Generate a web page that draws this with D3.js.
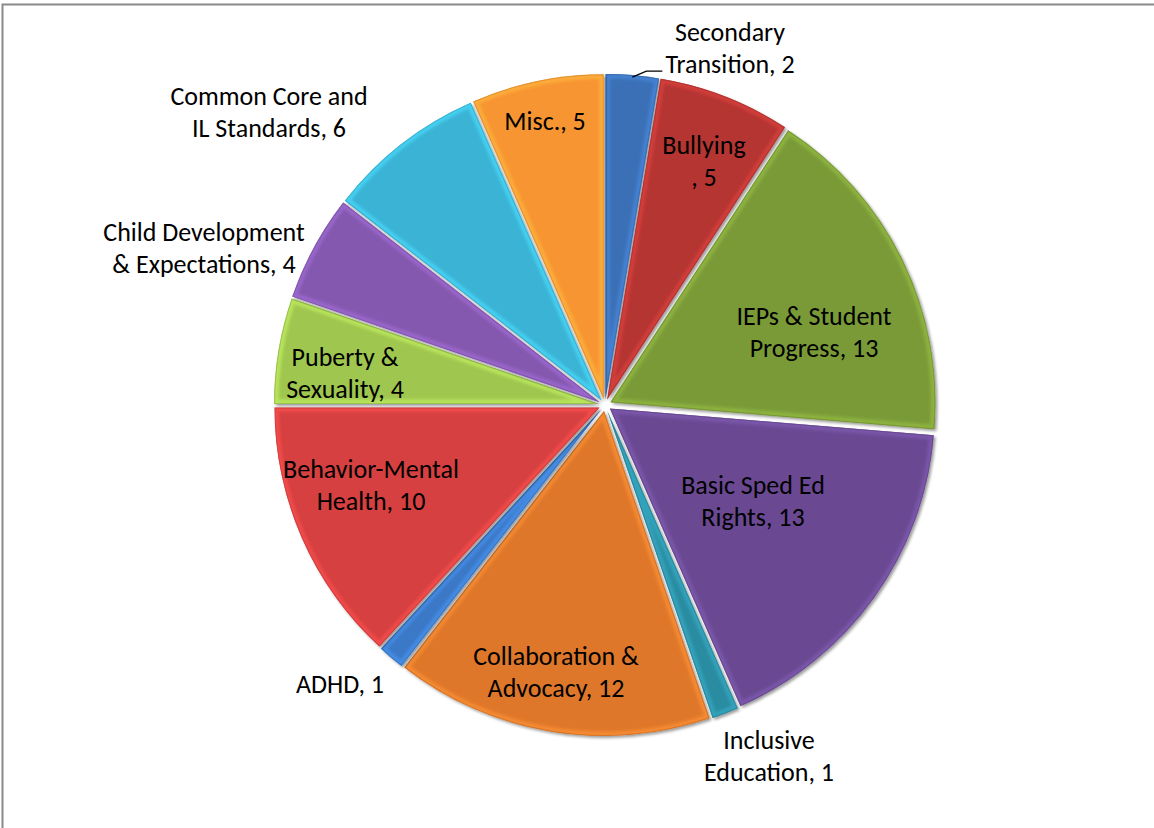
<!DOCTYPE html>
<html>
<head>
<meta charset="utf-8">
<script src="https://cdn.jsdelivr.net/npm/d3@7"></script>
<style>
  html, body { margin: 0; padding: 0; background: #fff; }
  svg { display: block; }
  text { font-family: Carlito, Lato, "Open Sans", sans-serif; font-size: 26px; fill: #000; }
</style>
</head>
<body>
<svg id="chart" width="1154" height="828"></svg>
<script>
// ---- data ----
const categories = [
  "Secondary Transition", "Bullying", "IEPs & Student Progress", "Basic Sped Ed Rights",
  "Inclusive Education", "Collaboration & Advocacy", "ADHD", "Behavior-Mental Health",
  "Puberty & Sexuality", "Child Development & Expectations", "Common Core and IL Standards", "Misc."
];
const values = [2, 5, 13, 13, 1, 12, 1, 10, 4, 4, 6, 5];
const labelLines = [
  ["Secondary", "Transition, 2"],
  ["Bullying", ", 5"],
  ["IEPs & Student", "Progress, 13"],
  ["Basic Sped Ed", "Rights, 13"],
  ["Inclusive", "Education, 1"],
  ["Collaboration &", "Advocacy, 12"],
  ["ADHD, 1"],
  ["Behavior-Mental", "Health, 10"],
  ["Puberty &", "Sexuality, 4"],
  ["Child Development", "& Expectations, 4"],
  ["Common Core and", "IL Standards, 6"],
  ["Misc., 5"]
];
const colors = [
  "#3a70b6", "#b53533", "#7a9a37", "#6a4a92", "#2c8ca1", "#df772a",
  "#3a78c6", "#d63f3f", "#9fc64f", "#8458ae", "#3ab3d5", "#f79532"
];

// ---- layout ----
const W = 1154, H = 828;
const cx = 605, cy = 405, R = 325, explode = 6;
// label centres relative to pie centre (layout only)
const labelPos = [
  [125, -357], [99, -244], [209, -73], [148, 96], [164, 351], [-49, 267],
  [-265, 279], [-234, 80], [-260, -32], [-401, -157], [-336, -293], [-60, -284]
];
const lineGap = 32;

const svg = d3.select("#chart");
const defs = svg.append("defs");

// drop shadow
const sh = defs.append("filter").attr("id", "shadow")
  .attr("x", "-10%").attr("y", "-10%").attr("width", "120%").attr("height", "120%");
sh.append("feGaussianBlur").attr("in", "SourceAlpha").attr("stdDeviation", 1.8).attr("result", "b");
sh.append("feOffset").attr("in", "b").attr("dx", 1.5).attr("dy", 2).attr("result", "o");
sh.append("feComponentTransfer").attr("in", "o").attr("result", "s")
  .append("feFuncA").attr("type", "linear").attr("slope", 0.4);
const mm = sh.append("feMerge");
mm.append("feMergeNode").attr("in", "s");
mm.append("feMergeNode").attr("in", "SourceGraphic");

const soft = defs.append("filter").attr("id", "soft");
soft.append("feGaussianBlur").attr("stdDeviation", 1.6);

// outer frame (right/bottom fall outside the picture)
svg.append("rect").attr("x", 2.5).attr("y", 4.5).attr("width", W + 10).attr("height", H + 10)
  .attr("fill", "none").attr("stroke", "#8a8a8a").attr("stroke-width", 2);

const pie = d3.pie().value(d => d).sort(null).startAngle(0).endAngle(2 * Math.PI);
const arcs = pie(values);
const arc = d3.arc().innerRadius(0).outerRadius(R);

const g = svg.append("g").attr("transform", `translate(${cx},${cy})`);

arcs.forEach((d, i) => {
  const a = (d.startAngle + d.endAngle) / 2;
  const sg = g.append("g")
    .attr("transform", `translate(${Math.sin(a) * explode},${-Math.cos(a) * explode})`);
  const path = arc(d);
  defs.append("clipPath").attr("id", "clip" + i).append("path").attr("d", path);
  sg.append("path").attr("d", path).attr("fill", colors[i]).attr("filter", "url(#shadow)");
  const inner = sg.append("g").attr("clip-path", `url(#clip${i})`);
  // lighter bevel rim
  inner.append("path").attr("d", path).attr("fill", "none")
    .attr("stroke", d3.color(colors[i]).brighter(0.6))
    .attr("stroke-width", 9).attr("stroke-opacity", 0.65)
    .attr("filter", "url(#soft)");
  // darker inner edge line
  inner.append("path").attr("d", path).attr("fill", "none")
    .attr("stroke", d3.color(colors[i]).darker(0.6))
    .attr("stroke-width", 2).attr("stroke-opacity", 0.5);
});

// leader line for Secondary Transition
{
  const d = arcs[0];
  const a = (d.startAngle + d.endAngle) / 2;
  const r0 = R + explode;
  const x0 = Math.sin(a) * r0, y0 = -Math.cos(a) * r0;
  g.append("path")
    .attr("d", `M${x0},${y0 + 2}L${x0 + 14},${y0 - 4}L${x0 + 30},${y0 - 4}`)
    .attr("fill", "none").attr("stroke", "#000").attr("stroke-width", 1.3);
}

// labels
const lg = g.append("g");
labelLines.forEach((lines, i) => {
  const [lx, ly] = labelPos[i];
  const t = lg.append("text").attr("text-anchor", "middle");
  const n = lines.length;
  lines.forEach((s, k) => {
    t.append("tspan").attr("x", lx)
      .attr("y", ly + (k - (n - 1) / 2) * lineGap)
      .attr("dy", "0.35em").text(s);
  });
});
</script>
</body>
</html>
